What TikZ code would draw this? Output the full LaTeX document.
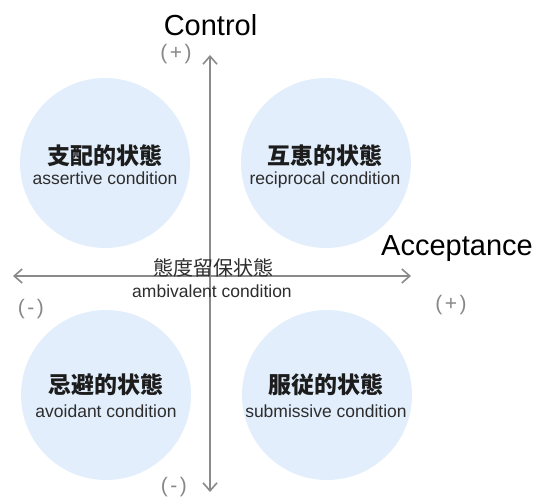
\documentclass[tikz,border=0pt]{standalone}
\usepackage{fontspec}
\setmainfont{Liberation Sans}
\newfontfamily\cjk{Noto Sans CJK JP}
\usetikzlibrary{arrows.meta}
\definecolor{bubblefill}{RGB}{226,238,251}
\definecolor{axisgray}{RGB}{138,138,138}
\definecolor{signgray}{RGB}{135,135,135}
\definecolor{ink}{RGB}{28,28,28}
\definecolor{subink}{RGB}{45,45,45}

\begin{document}
\begin{tikzpicture}[x=1pt,y=-1pt,
  bubble/.style={circle,fill=bubblefill,minimum size=170pt,inner sep=0pt},
  jalabel/.style={font=\cjk\bfseries\fontsize{23}{23}\selectfont,text=ink,inner sep=0pt},
  enlabel/.style={font=\fontsize{17.5}{17.5}\selectfont,text=subink,inner sep=0pt,anchor=base},
  axisline/.style={draw=axisgray,line width=2pt,
    {Straight Barb[length=8pt,width=14pt,line width=1.6pt]}-{Straight Barb[length=8pt,width=14pt,line width=1.6pt]}},
  sign/.style={font=\addfontfeature{LetterSpace=12}\fontsize{21}{21}\selectfont,text=signgray,inner sep=0pt},
  axistitle/.style={font=\fontsize{29}{29}\selectfont,text=black,inner sep=0pt,anchor=base}]

  % canvas
  \useasboundingbox (0,0) rectangle (541,500);

  % quadrant discs
  \node[bubble] (tl) at (105,163) {};
  \node[bubble] (tr) at (326,163) {};
  \node[bubble] (bl) at (106,395) {};
  \node[bubble] (br) at (327,395) {};

  % axes
  \coordinate (vtop) at (210,55);
  \coordinate (vbot) at (210,492);
  \coordinate (hleft) at (13,276);
  \coordinate (hright) at (411,276);
  \draw[axisline] (vbot) -- (vtop);
  \draw[axisline] (hleft) -- (hright);

  % axis titles and signs
  \node[axistitle] (ctitle) at (210.5,36) {Control};
  \node[axistitle] (atitle) at (457,255) {Acceptance};
  \node[sign] (vplus) at (176,54) {(+)};
  \node[sign] (vminus) at (174,487) {(-)};
  \node[sign] (hminus) at (31,309) {(-)};
  \node[sign] (hplus) at (451,305) {(+)};

  % quadrant labels
  \node[jalabel] (tlja) at (105,156) {支配的状態};
  \node[enlabel] (tlen) at (105,185) {assertive condition};
  \node[jalabel] (trja) at (325,156) {互恵的状態};
  \node[enlabel] (tren) at (325,185) {reciprocal condition};
  \node[jalabel] (blja) at (106,385) {忌避的状態};
  \node[enlabel] (blen) at (106,417) {avoidant condition};
  \node[jalabel] (brja) at (326,385) {服従的状態};
  \node[enlabel] (bren) at (326,417) {submissive condition};

  % centre label
  \node[jalabel,font=\cjk\fontsize{20}{20}\selectfont,text=subink] (midja) at (213,268) {態度留保状態};
  \node[enlabel] (miden) at (212,297) {ambivalent condition};
\end{tikzpicture}
\end{document}
